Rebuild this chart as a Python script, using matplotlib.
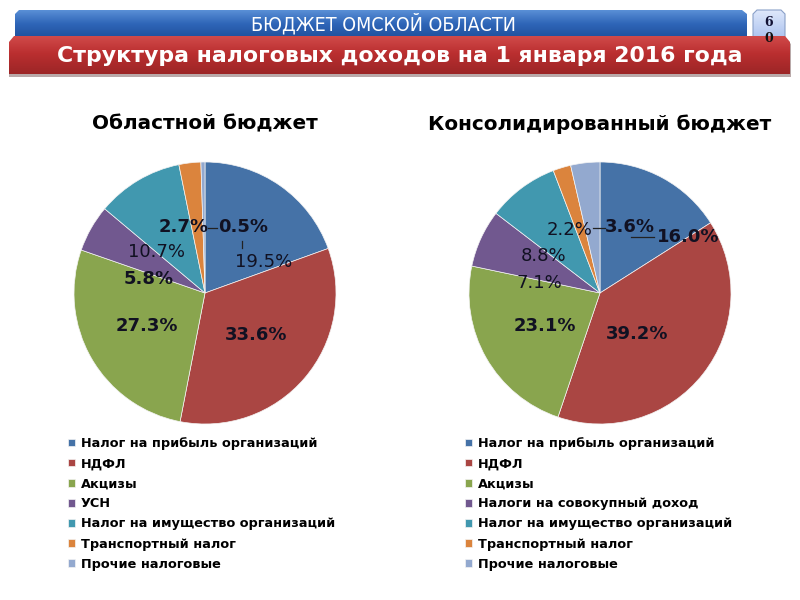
import numpy as np
import matplotlib
matplotlib.use("Agg")
import matplotlib.pyplot as plt
from matplotlib.patches import Polygon
from matplotlib.lines import Line2D

plt.rcParams['font.family'] = ['DejaVu Sans']

# ---------------- data ----------------
header_text = "БЮДЖЕТ ОМСКОЙ ОБЛАСТИ"
title_text = "Структура налоговых доходов на 1 января 2016 года"

left_title = "Областной бюджет"
right_title = "Консолидированный бюджет"

left_labels = ["Налог на прибыль организаций", "НДФЛ", "Акцизы", "УСН",
               "Налог на имущество организаций", "Транспортный налог", "Прочие налоговые"]
right_labels = ["Налог на прибыль организаций", "НДФЛ", "Акцизы", "Налоги на совокупный доход",
                "Налог на имущество организаций", "Транспортный налог", "Прочие налоговые"]

left_values = [19.5, 33.6, 27.3, 5.8, 10.7, 2.7, 0.5]
right_values = [16.0, 39.2, 23.1, 7.1, 8.8, 2.2, 3.6]

colors = ["#4572A7", "#AA4643", "#89A54E", "#71588F", "#4198AF", "#DB843D", "#93A9CF"]

# label positions (in pie-radius units) and weights
left_lab_pos = [(0.45, 0.24), (0.39, -0.32), (-0.44, -0.25), (-0.43, 0.11),
                (-0.37, 0.31), (-0.16, 0.50), (0.29, 0.50)]
left_bold = [False, True, True, True, False, True, True]
right_lab_pos = [(0.675, 0.43), (0.28, -0.31), (-0.42, -0.25), (-0.46, 0.08),
                 (-0.43, 0.28), (-0.23, 0.48), (0.23, 0.50)]
right_bold = [True, True, True, False, False, False, True]

W, H = 800, 600
fig = plt.figure(figsize=(8, 6), dpi=100)
fig.patch.set_facecolor("white")

# background axes in pixel coordinates
bg = fig.add_axes([0, 0, 1, 1])
bg.set_xlim(0, W)
bg.set_ylim(H, 0)
bg.axis("off")


def grad_poly(ax, pts, top_col, mid_col, bot_col, y0, y1, z):
    poly = Polygon(pts, closed=True, facecolor="none", edgecolor="none", zorder=z)
    ax.add_patch(poly)
    c = np.array([matplotlib.colors.to_rgb(top_col), matplotlib.colors.to_rgb(mid_col),
                  matplotlib.colors.to_rgb(bot_col)])
    t = np.linspace(0, 1, 64)
    r = np.interp(t, [0, 0.45, 1], c[:, 0])
    g = np.interp(t, [0, 0.45, 1], c[:, 1])
    b = np.interp(t, [0, 0.45, 1], c[:, 2])
    img = np.stack([r, g, b], axis=1)[:, None, :]
    xs = [p[0] for p in pts]
    im = ax.imshow(img, extent=[min(xs), max(xs), y1, y0], aspect="auto", zorder=z,
                   interpolation="bilinear")
    im.set_clip_path(poly)


# page box
grad_poly(bg, [(753, 14), (757, 10), (781, 10), (785, 14), (785, 40), (753, 40)],
          "#dfe8fb", "#c6d6f5", "#a9c0ee", 10, 40, 1)
bg.add_patch(Polygon([(753, 14), (757, 10), (781, 10), (785, 14), (785, 40), (753, 40)],
                     closed=True, facecolor="none", edgecolor="#8aa0c8", lw=0.8, zorder=1.1))
bg.text(769, 22, "6", ha="center", va="center", fontsize=9, color="#111133",
        family="DejaVu Serif", fontweight="bold", zorder=5)
bg.text(769, 39, "0", ha="center", va="center", fontsize=9, color="#111111",
        family="DejaVu Serif", fontweight="bold", zorder=5)

# blue bar
grad_poly(bg, [(15, 14), (19, 10), (742, 10), (747, 14), (747, 40), (15, 40)],
          "#5a8fd6", "#2f66b8", "#1d4d99", 10, 40, 2)
bg.text(383, 24, header_text, ha="center", va="center", fontsize=14, color="white",
        fontstretch="condensed", zorder=6)

# red bar shadow
bg.add_patch(Polygon([(9, 44), (13, 39), (786, 39), (791, 44), (791, 77), (9, 77)],
                     closed=True, facecolor="#b9a9a9", edgecolor="none", zorder=2.5))
# red bar
grad_poly(bg, [(9, 42), (14, 36), (785, 36), (790, 42), (790, 74), (9, 74)],
          "#d04a4a", "#bb2f30", "#9c2526", 36, 74, 3)
bg.text(400, 56, title_text, ha="center", va="center", fontsize=15.8, color="white",
        fontweight="bold", zorder=6)

# pie titles
bg.text(205, 124, left_title, ha="center", va="center", fontsize=14.4, fontweight="bold",
        color="black")
bg.text(600, 124, right_title, ha="center", va="center", fontsize=14.4, fontweight="bold",
        color="black")


def draw_pie(cx, cy, r, values, lab_pos, bold):
    ax = fig.add_axes([(cx - r) / W, (H - cy - r) / H, 2 * r / W, 2 * r / H])
    wedges, _ = ax.pie(values, colors=colors, startangle=90, counterclock=False,
                       radius=1.0, wedgeprops=dict(linewidth=0.5, edgecolor="#f4f4f4"))
    ax.set_xlim(-1.0, 1.0)
    ax.set_ylim(-1.0, 1.0)
    ax.set_aspect("equal")
    ax.axis("off")
    for v, (x, y), b in zip(values, lab_pos, bold):
        ax.text(x, y, f"{v:.1f}%", ha="center", va="center", fontsize=13.0,
                fontweight="bold" if b else "normal", color="#111122", zorder=5)
    return ax, wedges


axl, wl = draw_pie(205, 293, 131, left_values, left_lab_pos, left_bold)
axr, wr = draw_pie(600, 293, 131, right_values, right_lab_pos, right_bold)

# leader lines (pie units)
axl.add_line(Line2D([0.02, 0.095], [0.495, 0.495], color="#222222", lw=0.9, zorder=6))
axl.add_line(Line2D([0.28, 0.28], [0.34, 0.40], color="#222222", lw=0.9, zorder=6))
axr.add_line(Line2D([-0.05, 0.04], [0.495, 0.495], color="#222222", lw=0.9, zorder=6))
axr.add_line(Line2D([0.24, 0.41], [0.425, 0.425], color="#222222", lw=0.9, zorder=6))

# legends
for wedges, labels, x0 in ((wl, left_labels, 68), (wr, right_labels, 465)):
    fig.legend(wedges, labels, loc="upper left",
               bbox_to_anchor=(x0 / W, 1 - 437 / H), frameon=False,
               handlelength=0.55, handleheight=0.55, handletextpad=0.45,
               labelspacing=0.55, borderaxespad=0, borderpad=0,
               prop=dict(size=9.3, weight="bold"))

fig.savefig("out.png", dpi=100, facecolor="white")
